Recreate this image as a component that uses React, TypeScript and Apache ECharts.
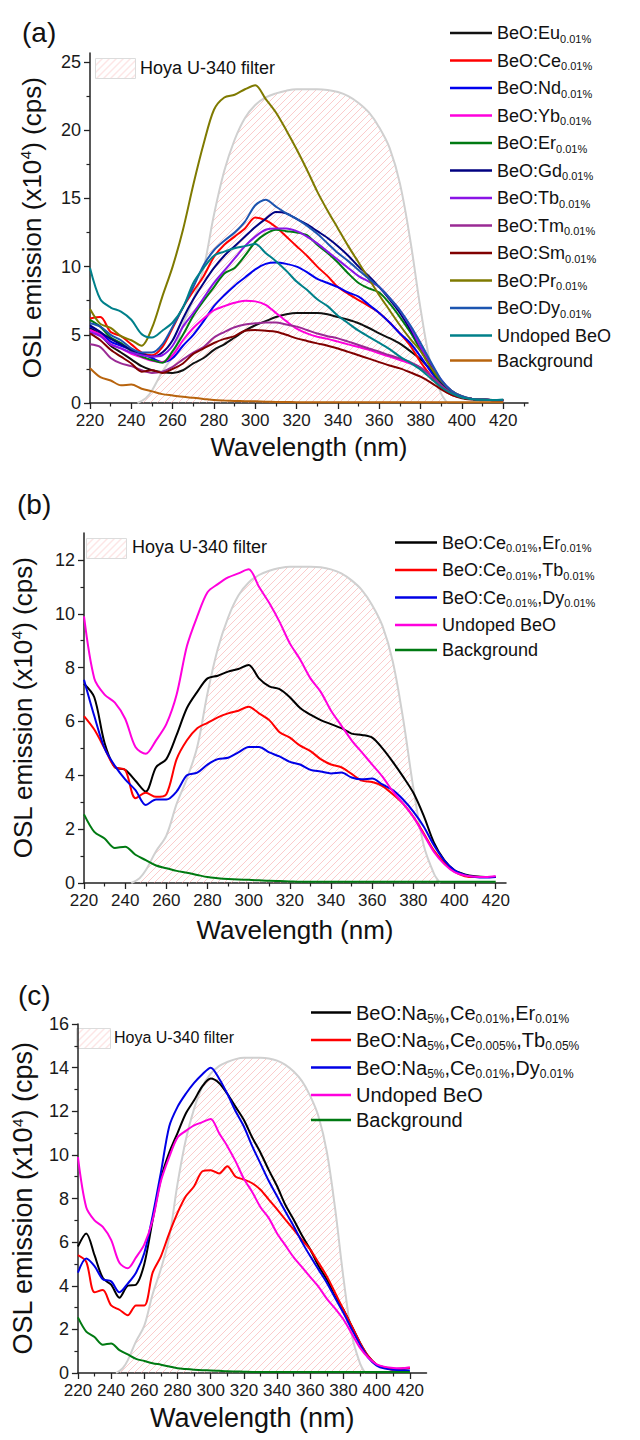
import React, { useEffect, useRef } from "react";
import * as echarts from "echarts";

const FONT = '"Liberation Sans", Arial, Helvetica, sans-serif';

// ---------- data (wavelength grid, nm) ----------
const wavelength = [220, 225, 230, 235, 240, 245, 250, 255, 260, 265, 270, 275, 280, 285, 290, 295, 300, 305, 310, 315, 320, 325, 330, 335, 340, 345, 350, 355, 360, 365, 370, 375, 380, 385, 390, 395, 400, 405, 410, 415, 420];

// panel (a) single-doped samples (x10^4 cps)
const euA = [5.5, 5.0, 4.2, 3.7, 3.2, 2.7, 2.4, 2.25, 2.2, 2.4, 2.9, 3.3, 3.9, 4.3, 4.8, 5.3, 5.7, 6.0, 6.3, 6.5, 6.6, 6.6, 6.6, 6.5, 6.3, 6.1, 5.85, 5.5, 5.1, 4.75, 4.35, 3.8, 3.2, 2.4, 1.5, 0.8, 0.45, 0.3, 0.25, 0.22, 0.2];
const ceA = [6.2, 6.3, 5.2, 4.9, 4.3, 3.7, 3.5, 4.1, 5.5, 7.0, 8.2, 9.3, 10.7, 11.6, 12.2, 12.8, 13.6, 13.4, 12.9, 12.2, 11.5, 10.8, 10.0, 9.3, 8.5, 8.0, 7.55, 7.1, 6.6, 5.9, 5.1, 4.2, 3.0, 2.0, 1.1, 0.6, 0.4, 0.3, 0.25, 0.2, 0.2];
const ndA = [5.6, 5.2, 4.5, 4.2, 3.9, 3.6, 3.3, 3.0, 3.3, 4.2, 5.0, 6.0, 7.1, 7.9, 8.6, 9.2, 9.8, 10.2, 10.3, 10.2, 10.0, 9.6, 9.1, 8.8, 8.5, 8.1, 7.8, 7.2, 6.6, 5.9, 5.1, 4.4, 3.4, 2.3, 1.3, 0.7, 0.4, 0.3, 0.25, 0.2, 0.2];
const ybA = [5.35, 5.0, 4.3, 4.0, 3.6, 3.35, 3.1, 3.0, 3.5, 4.6, 5.5, 6.2, 6.8, 7.1, 7.35, 7.5, 7.45, 7.2, 6.6, 6.0, 5.45, 5.1, 4.86, 4.7, 4.5, 4.3, 4.1, 3.9, 3.64, 3.4, 3.15, 2.9, 2.6, 2.0, 1.3, 0.7, 0.4, 0.3, 0.25, 0.2, 0.2];
const erA = [6.1, 5.6, 4.8, 4.4, 3.8, 3.4, 3.15, 2.95, 3.8, 5.0, 6.4, 7.5, 8.5, 9.5, 9.9, 10.8, 11.8, 12.4, 12.7, 12.6, 12.5, 12.3, 11.6, 11.0, 10.3, 9.5, 8.8, 8.4, 8.1, 7.3, 6.3, 5.2, 3.9, 2.6, 1.4, 0.7, 0.4, 0.3, 0.25, 0.2, 0.2];
const gdA = [5.7, 5.2, 4.7, 4.3, 3.9, 3.6, 3.4, 3.7, 4.6, 6.2, 7.6, 8.8, 9.9, 10.8, 11.5, 12.2, 12.9, 13.5, 14.0, 13.9, 13.5, 13.1, 12.6, 12.1, 11.5, 10.8, 10.0, 9.3, 8.5, 7.6, 6.6, 5.4, 4.1, 2.8, 1.5, 0.8, 0.45, 0.3, 0.25, 0.2, 0.2];
const tbA = [5.2, 4.9, 4.3, 4.0, 3.7, 3.5, 3.4, 3.5, 4.2, 5.6, 6.6, 7.7, 8.8, 9.7, 10.6, 11.5, 12.2, 12.7, 12.8, 12.8, 12.6, 12.2, 11.7, 11.1, 10.5, 9.9, 9.3, 8.9, 8.5, 7.7, 6.8, 5.6, 4.1, 2.9, 1.7, 0.9, 0.5, 0.3, 0.25, 0.2, 0.2];
const tmA = [4.3, 4.1, 3.3, 2.9, 2.7, 2.4, 2.2, 2.3, 2.65, 3.2, 3.7, 4.1, 4.8, 5.2, 5.55, 5.75, 5.84, 5.9, 5.9, 5.75, 5.6, 5.35, 5.1, 4.9, 4.74, 4.5, 4.25, 4.0, 3.76, 3.5, 3.27, 3.0, 2.6, 2.0, 1.3, 0.7, 0.4, 0.3, 0.25, 0.2, 0.2];
const smA = [5.1, 4.6, 3.9, 3.4, 2.9, 2.3, 2.4, 2.2, 2.5, 2.9, 3.6, 4.0, 4.4, 4.7, 4.9, 5.3, 5.35, 5.3, 5.23, 5.0, 4.74, 4.55, 4.37, 4.2, 4.0, 3.75, 3.5, 3.25, 3.0, 2.75, 2.54, 2.25, 1.93, 1.5, 1.0, 0.6, 0.35, 0.25, 0.2, 0.2, 0.18];
const prA = [6.9, 5.8, 5.5, 4.9, 4.6, 4.2, 5.5, 7.8, 10.0, 12.7, 16.0, 19.0, 21.5, 22.4, 22.6, 23.0, 23.3, 22.3, 21.3, 20.0, 18.6, 17.1, 15.5, 14.1, 12.8, 11.5, 10.3, 9.1, 7.9, 6.8, 5.7, 4.7, 3.8, 2.6, 1.6, 0.9, 0.5, 0.3, 0.25, 0.2, 0.2];
const dyA = [5.84, 5.6, 5.0, 4.6, 4.0, 3.7, 3.7, 4.3, 5.6, 7.0, 8.5, 10.1, 11.2, 11.9, 12.5, 13.3, 14.5, 14.9, 14.4, 13.9, 13.5, 13.0, 12.4, 11.7, 11.0, 10.4, 9.75, 9.1, 8.5, 7.7, 6.8, 5.7, 4.4, 3.0, 1.7, 0.9, 0.5, 0.3, 0.25, 0.2, 0.2];

// shared reference curves
const undopedBeO = [9.9, 7.6, 7.0, 6.7, 6.1, 5.05, 4.8, 5.3, 5.9, 7.0, 8.8, 9.9, 10.8, 11.1, 11.35, 11.5, 11.65, 11.0, 10.4, 9.7, 8.9, 8.3, 7.6, 7.1, 6.4, 5.85, 5.3, 4.85, 4.4, 3.95, 3.4, 2.95, 2.45, 1.8, 1.15, 0.7, 0.4, 0.28, 0.23, 0.22, 0.26];
const background = [2.55, 1.9, 1.65, 1.3, 1.35, 1.05, 0.85, 0.65, 0.55, 0.45, 0.38, 0.3, 0.22, 0.18, 0.15, 0.13, 0.12, 0.1, 0.08, 0.07, 0.06, 0.05, 0.05, 0.05, 0.05, 0.05, 0.05, 0.05, 0.05, 0.05, 0.05, 0.05, 0.05, 0.05, 0.05, 0.05, 0.05, 0.05, 0.05, 0.05, 0.05];

// panel (b) Ce co-doped
const ceErB = [7.4, 6.9, 5.2, 4.3, 4.2, 3.8, 3.4, 4.3, 4.6, 5.5, 6.5, 7.1, 7.6, 7.7, 7.85, 7.95, 8.1, 7.6, 7.3, 7.2, 6.9, 6.5, 6.25, 6.05, 5.9, 5.75, 5.55, 5.5, 5.4, 5.0, 4.5, 3.95, 3.35, 2.5, 1.5, 0.85, 0.47, 0.32, 0.25, 0.22, 0.22];
const ceTbB = [6.2, 5.7, 5.0, 4.3, 4.2, 3.15, 3.35, 3.2, 3.3, 4.6, 5.3, 5.75, 5.95, 6.15, 6.3, 6.4, 6.55, 6.3, 6.05, 5.6, 5.4, 5.1, 4.9, 4.6, 4.4, 4.3, 4.05, 3.8, 3.75, 3.6, 3.3, 2.95, 2.46, 1.85, 1.2, 0.75, 0.42, 0.25, 0.22, 0.22, 0.22];
const ceDyB = [7.55, 6.2, 5.0, 4.35, 3.85, 3.45, 2.9, 3.1, 3.1, 3.4, 4.0, 4.1, 4.4, 4.6, 4.65, 4.85, 5.05, 5.05, 4.85, 4.7, 4.5, 4.4, 4.2, 4.14, 4.07, 4.1, 3.92, 3.85, 3.88, 3.66, 3.45, 3.1, 2.65, 2.1, 1.4, 0.84, 0.47, 0.3, 0.22, 0.2, 0.22];

// panel (c) Na,Ce co-doped
const naCeErC = [5.8, 6.4, 5.4, 4.35, 4.05, 3.45, 4.0, 4.05, 5.0, 7.0, 8.9, 10.1, 11.0, 11.9, 12.5, 13.15, 13.5, 13.3, 12.8, 12.2, 11.6, 10.8, 10.1, 9.3, 8.56, 7.7, 7.03, 6.3, 5.66, 4.9, 4.28, 3.5, 2.9, 2.14, 1.38, 0.76, 0.38, 0.25, 0.18, 0.2, 0.23];
const naCeTbC = [5.4, 5.1, 3.7, 3.8, 3.1, 2.9, 2.65, 3.1, 3.1, 4.6, 5.35, 6.4, 7.34, 8.1, 8.56, 9.25, 9.3, 9.15, 9.48, 9.0, 8.87, 8.7, 8.4, 7.95, 7.5, 7.03, 6.57, 6.1, 5.66, 5.05, 4.43, 3.67, 2.9, 2.14, 1.38, 0.76, 0.38, 0.25, 0.15, 0.2, 0.23];
const naCeDyC = [4.6, 5.25, 4.9, 4.3, 4.2, 3.7, 4.1, 4.6, 5.5, 7.2, 9.2, 11.3, 12.2, 12.8, 13.3, 13.7, 14.0, 13.5, 12.8, 12.0, 11.3, 10.4, 9.6, 8.8, 8.1, 7.4, 6.73, 6.0, 5.35, 4.74, 4.13, 3.44, 2.75, 2.0, 1.3, 0.69, 0.34, 0.2, 0.15, 0.13, 0.12];

// Hoya U-340 filter transmission (drawn to each panel's scale)
const filterWl = [243, 247, 250, 255, 260, 265, 270, 275, 280, 285, 290, 295, 300, 305, 310, 315, 320, 325, 330, 335, 340, 345, 350, 355, 360, 365, 370, 375, 380, 385, 390, 393];
const filterA = [0, 0.35, 0.92, 2.3, 3.45, 5.75, 7.59, 9.89, 13.8, 17.02, 19.3, 20.9, 21.85, 22.4, 22.7, 22.9, 23, 23, 23, 22.95, 22.8, 22.5, 22.0, 21.3, 20.2, 18.7, 16.1, 11.96, 6.9, 2.76, 0.69, 0];
const filterB = [0, 0.18, 0.47, 1.18, 1.76, 2.94, 3.88, 5.05, 7.05, 8.7, 9.86, 10.68, 11.16, 11.44, 11.6, 11.7, 11.75, 11.75, 11.75, 11.73, 11.65, 11.5, 11.24, 10.88, 10.32, 9.55, 8.23, 6.11, 3.53, 1.41, 0.35, 0];
const filterC = [0, 0.22, 0.58, 1.45, 2.17, 3.61, 4.77, 6.21, 8.67, 10.69, 12.12, 13.13, 13.72, 14.07, 14.26, 14.39, 14.45, 14.45, 14.45, 14.42, 14.32, 14.13, 13.82, 13.38, 12.69, 11.75, 10.12, 7.51, 4.34, 1.73, 0.43, 0];

// tick labels
const xTicks = [220, 240, 260, 280, 300, 320, 340, 360, 380, 400, 420];
const yTicksA = [0, 5, 10, 15, 20, 25];
const yTicksB = [0, 2, 4, 6, 8, 10, 12];
const yTicksC = [0, 2, 4, 6, 8, 10, 12, 14, 16];

type Line = { name: string; label: string; color: string; values: number[] };

const linesA: Line[] = [
  { name: "BeO:Eu0.01%", label: "BeO:Eu{s|0.01%}", color: "#111111", values: euA },
  { name: "BeO:Ce0.01%", label: "BeO:Ce{s|0.01%}", color: "#ff0000", values: ceA },
  { name: "BeO:Nd0.01%", label: "BeO:Nd{s|0.01%}", color: "#0000ee", values: ndA },
  { name: "BeO:Yb0.01%", label: "BeO:Yb{s|0.01%}", color: "#ff00dd", values: ybA },
  { name: "BeO:Er0.01%", label: "BeO:Er{s|0.01%}", color: "#007a12", values: erA },
  { name: "BeO:Gd0.01%", label: "BeO:Gd{s|0.01%}", color: "#000080", values: gdA },
  { name: "BeO:Tb0.01%", label: "BeO:Tb{s|0.01%}", color: "#8a14e6", values: tbA },
  { name: "BeO:Tm0.01%", label: "BeO:Tm{s|0.01%}", color: "#9a2a94", values: tmA },
  { name: "BeO:Sm0.01%", label: "BeO:Sm{s|0.01%}", color: "#800000", values: smA },
  { name: "BeO:Pr0.01%", label: "BeO:Pr{s|0.01%}", color: "#7f7a00", values: prA },
  { name: "BeO:Dy0.01%", label: "BeO:Dy{s|0.01%}", color: "#1c55b0", values: dyA },
  { name: "Undoped BeO", label: "{u|Undoped BeO}", color: "#00808a", values: undopedBeO },
  { name: "Background", label: "{b|Background}", color: "#b8640e", values: background },
];

const linesB: Line[] = [
  { name: "BeO:Ce0.01%,Er0.01%", label: "BeO:Ce{s|0.01%},Er{s|0.01%}", color: "#000000", values: ceErB },
  { name: "BeO:Ce0.01%,Tb0.01%", label: "BeO:Ce{s|0.01%},Tb{s|0.01%}", color: "#ff0000", values: ceTbB },
  { name: "BeO:Ce0.01%,Dy0.01%", label: "BeO:Ce{s|0.01%},Dy{s|0.01%}", color: "#0000e6", values: ceDyB },
  { name: "Undoped BeO", label: "{u|Undoped BeO}", color: "#ff00dd", values: undopedBeO },
  { name: "Background", label: "{b|Background}", color: "#007a12", values: background },
];

const linesC: Line[] = [
  { name: "BeO:Na5%,Ce0.01%,Er0.01%", label: "BeO:Na{s|5%},Ce{s|0.01%},Er{s|0.01%}", color: "#000000", values: naCeErC },
  { name: "BeO:Na5%,Ce0.005%,Tb0.05%", label: "BeO:Na{s|5%},Ce{s|0.005%},Tb{s|0.05%}", color: "#ff0000", values: naCeTbC },
  { name: "BeO:Na5%,Ce0.01%,Dy0.01%", label: "BeO:Na{s|5%},Ce{s|0.01%},Dy{s|0.01%}", color: "#0000e6", values: naCeDyC },
  { name: "Undoped BeO", label: "{u|Undoped BeO}", color: "#ff00dd", values: undopedBeO },
  { name: "Background", label: "{b|Background}", color: "#007a12", values: background },
];

type PanelCfg = {
  tag: string;
  height: number;
  grid: { left: number; top: number; width: number; height: number };
  xMax: number;
  yMax: number;
  yInterval: number;
  yTicks: number[];
  filter: number[];
  lines: Line[];
  legendLeft: number;
  legendTop: number;
  legendItemWidth: number;
  legendFont: number;
  legendSub: number;
  legendGap: number;
  tagPos: [number, number];
  boxRect: [number, number, number, number];
  boxTextPos: [number, number];
  boxFont: number;
  yNameGap: number;
  xNameGap: number;
  titleFont: number;
};

const panels: PanelCfg[] = [
  {
    tag: "(a)", height: 470,
    grid: { left: 90, top: 53, width: 438, height: 350 },
    xMax: 432, yMax: 25.66, yInterval: 5, yTicks: yTicksA, filter: filterA, lines: linesA,
    legendLeft: 450, legendTop: 21.5, legendItemWidth: 42, legendFont: 18, legendSub: 11, legendGap: 4.5,
    tagPos: [22, 18], boxRect: [95, 58, 40, 20], boxTextPos: [140, 59], boxFont: 18,
    yNameGap: 44, xNameGap: 31, titleFont: 26,
  },
  {
    tag: "(b)", height: 505,
    grid: { left: 82, top: 63, width: 424, height: 350 },
    xMax: 425, yMax: 13, yInterval: 2, yTicks: yTicksB, filter: filterB, lines: linesB,
    legendLeft: 395, legendTop: 61, legendItemWidth: 42, legendFont: 18, legendSub: 11, legendGap: 4.5,
    tagPos: [17, 20], boxRect: [86, 68, 40, 20], boxTextPos: [132, 68], boxFont: 18,
    yNameGap: 47, xNameGap: 34, titleFont: 26,
  },
  {
    tag: "(c)", height: 465,
    grid: { left: 72, top: 49, width: 354.5, height: 349 },
    xMax: 430, yMax: 16, yInterval: 2, yTicks: yTicksC, filter: filterC, lines: linesC,
    legendLeft: 311, legendTop: 25, legendItemWidth: 40, legendFont: 20, legendSub: 12, legendGap: 2.5,
    tagPos: [18, 6], boxRect: [76, 53, 34, 20], boxTextPos: [114, 54], boxFont: 16,
    yNameGap: 38, xNameGap: 31, titleFont: 27,
  },
];

function makeHatch() {
  const s = 7;
  const c = document.createElement("canvas");
  c.width = s;
  c.height = s;
  const ctx = c.getContext("2d");
  if (ctx) {
    ctx.strokeStyle = "rgba(246,150,150,0.55)";
    ctx.lineWidth = 0.9;
    for (const x0 of [-s, 0, s]) {
      ctx.beginPath();
      ctx.moveTo(x0, s);
      ctx.lineTo(x0 + s, 0);
      ctx.stroke();
    }
  }
  return { image: c, repeat: "repeat", imageWidth: s, imageHeight: s } as any;
}

function pairs(xs: number[], ys: number[]) {
  return xs.map((x, i) => [x, ys[i]]);
}

function buildOption(cfg: PanelCfg) {
  const pattern = makeHatch();
  const axisColor = "#222";
  const labelMap: Record<string, string> = {};
  cfg.lines.forEach((l) => (labelMap[l.name] = l.label));
  const f = cfg.legendFont;
  const sub = cfg.legendSub;
  const subPad = Math.round(f * 0.67);

  const series: any[] = [
    {
      type: "line",
      name: "Hoya U-340 filter",
      data: pairs(filterWl, cfg.filter),
      symbol: "none",
      smooth: 0.35,
      silent: true,
      z: 1,
      lineStyle: { color: "#d0d0d0", width: 2 },
      areaStyle: { color: pattern, opacity: 1 },
    },
    ...cfg.lines.map((l) => ({
      type: "line",
      name: l.name,
      data: pairs(wavelength, l.values),
      symbol: "none",
      smooth: 0.3,
      z: 3,
      color: l.color,
      lineStyle: { color: l.color, width: 2 },
    })),
  ];

  return {
    animation: false,
    backgroundColor: "#ffffff",
    textStyle: { fontFamily: FONT },
    grid: { ...cfg.grid, containLabel: false },
    xAxis: {
      type: "value",
      min: 220,
      max: cfg.xMax,
      interval: 20,
      splitLine: { show: false },
      axisLine: { show: true, onZero: false, lineStyle: { color: axisColor, width: 1.5 } },
      axisTick: { show: true, length: 6, lineStyle: { color: axisColor, width: 1.3 }, customValues: xTicks },
      minorTick: { show: true, splitNumber: 2, length: 3.5, lineStyle: { color: axisColor, width: 1.2 } },
      axisLabel: { customValues: xTicks, fontSize: 17, color: "#1a1a1a", margin: 9, fontFamily: FONT },
      name: "Wavelength (nm)",
      nameLocation: "middle",
      nameGap: cfg.xNameGap,
      nameTextStyle: { fontSize: cfg.titleFont, color: "#111", fontFamily: FONT },
    },
    yAxis: {
      type: "value",
      min: 0,
      max: cfg.yMax,
      interval: cfg.yInterval,
      splitLine: { show: false },
      axisLine: { show: true, onZero: false, lineStyle: { color: axisColor, width: 1.5 } },
      axisTick: { show: true, length: 6, lineStyle: { color: axisColor, width: 1.3 }, customValues: cfg.yTicks },
      minorTick: { show: true, splitNumber: 2, length: 3.5, lineStyle: { color: axisColor, width: 1.2 } },
      axisLabel: { customValues: cfg.yTicks, fontSize: 18, color: "#1a1a1a", margin: 9, fontFamily: FONT },
      name: "OSL emission (x10{sup|4}) (cps)",
      nameLocation: "middle",
      nameGap: cfg.yNameGap,
      nameTextStyle: {
        fontSize: cfg.titleFont,
        lineHeight: cfg.titleFont + 3,
        color: "#111",
        fontFamily: FONT,
        rich: { sup: { fontSize: 15, lineHeight: 15, padding: [0, 0, 12, 0], color: "#111", fontFamily: FONT } },
      },
    },
    legend: {
      orient: "vertical",
      left: cfg.legendLeft,
      top: cfg.legendTop,
      padding: 0,
      itemGap: cfg.legendGap,
      itemWidth: cfg.legendItemWidth,
      itemHeight: 2.6,
      icon: "rect",
      selectedMode: false,
      data: cfg.lines.map((l) => l.name),
      formatter: (name: string) => labelMap[name] || name,
      textStyle: {
        fontFamily: FONT,
        fontSize: f,
        lineHeight: f,
        color: "#111",
        rich: {
          s: { fontSize: sub, lineHeight: sub, padding: [subPad, 0, 0, 0], color: "#111", fontFamily: FONT },
          u: { fontSize: f, lineHeight: f + 5, color: "#111", fontFamily: FONT },
          b: { fontSize: f, lineHeight: f - 4, color: "#111", fontFamily: FONT },
        },
      },
    },
    graphic: [
      {
        type: "text",
        left: cfg.tagPos[0],
        top: cfg.tagPos[1],
        style: { text: cfg.tag, fontSize: 28, fontFamily: FONT, fill: "#111" },
      },
      {
        type: "rect",
        left: cfg.boxRect[0],
        top: cfg.boxRect[1],
        shape: { width: cfg.boxRect[2], height: cfg.boxRect[3] },
        style: { fill: pattern, stroke: "#dcdcdc", lineWidth: 1 },
      },
      {
        type: "text",
        left: cfg.boxTextPos[0],
        top: cfg.boxTextPos[1],
        style: { text: "Hoya U-340 filter", fontSize: cfg.boxFont, fontFamily: FONT, fill: "#111" },
      },
    ],
    series,
  };
}

function Panel({ cfg }: { cfg: PanelCfg }) {
  const ref = useRef<HTMLDivElement>(null);
  useEffect(() => {
    if (!ref.current) return;
    const chart = echarts.init(ref.current, null, { renderer: "svg" });
    chart.setOption(buildOption(cfg) as any);
    return () => chart.dispose();
  }, [cfg]);
  return <div ref={ref} style={{ width: 640, height: cfg.height }} />;
}

export default function App() {
  return (
    <div style={{ position: "absolute", left: 0, top: 0, width: 640, height: 1440, background: "#ffffff" }}>
      {panels.map((p) => (
        <Panel key={p.tag} cfg={p} />
      ))}
    </div>
  );
}
